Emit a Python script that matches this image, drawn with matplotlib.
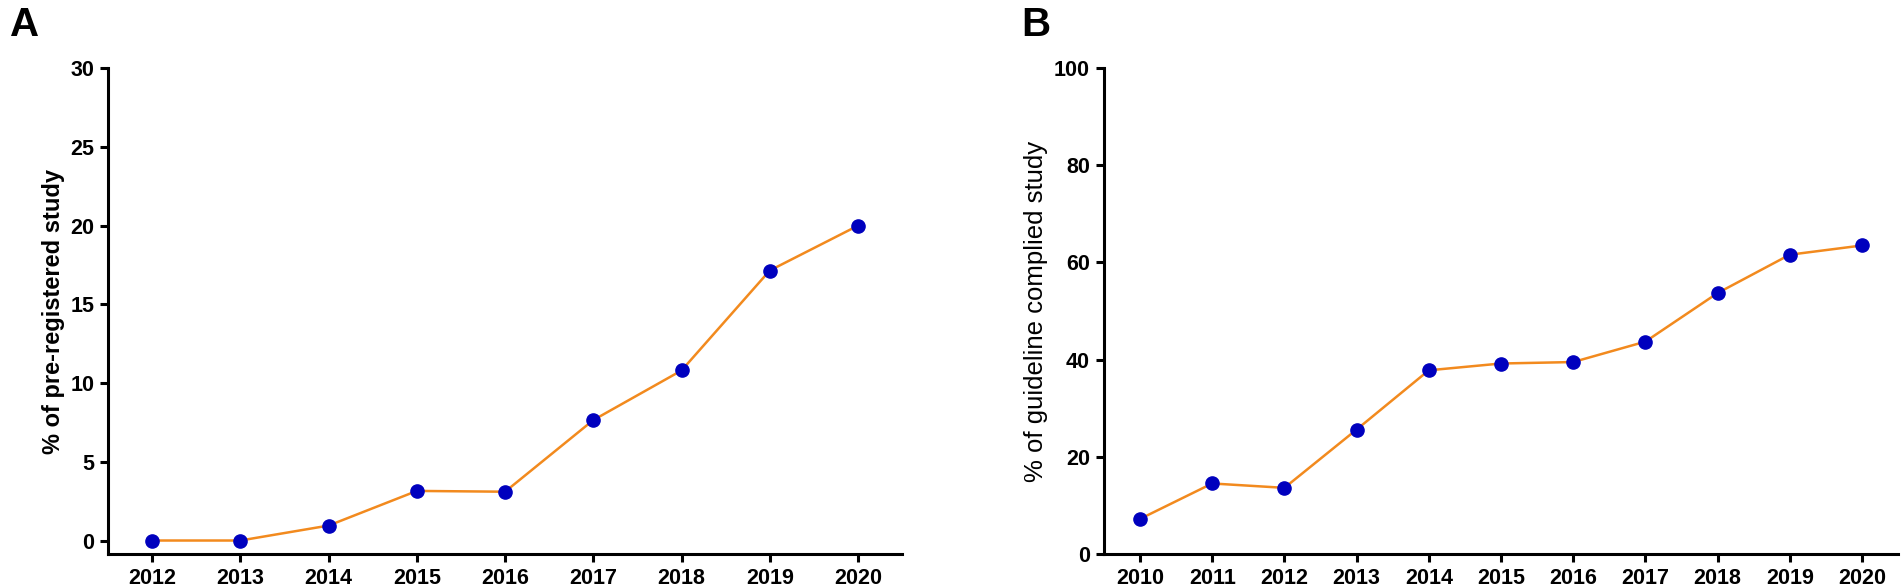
import matplotlib
matplotlib.use("Agg")
import matplotlib.pyplot as plt

plt.rcParams['font.family'] = ['Liberation Sans', 'DejaVu Sans']

# Panel A: pre-registered studies
years_a = [2012, 2013, 2014, 2015, 2016, 2017, 2018, 2019, 2020]
prereg_pct = [0.0, 0.0, 0.95, 3.15, 3.1, 7.65, 10.8, 17.15, 20.0]

# Panel B: guideline complied studies
years_b = [2010, 2011, 2012, 2013, 2014, 2015, 2016, 2017, 2018, 2019, 2020]
guideline_pct = [7.2, 14.5, 13.6, 25.6, 37.8, 39.2, 39.5, 43.7, 53.7, 61.6, 63.5]

line_color = '#F28A1E'
dot_color = '#0000BE'


def style_axes(ax, ylabel, bold_label, label_size):
    for side in ['top', 'right']:
        ax.spines[side].set_visible(False)
    for side in ['left', 'bottom']:
        ax.spines[side].set_linewidth(2.2)
    ax.tick_params(axis='both', direction='out', length=6, width=2.2,
                   pad=4, labelsize=15.5)
    for lab in ax.get_xticklabels() + ax.get_yticklabels():
        lab.set_fontweight('bold')
    ax.set_ylabel(ylabel, fontsize=label_size,
                  fontweight='bold' if bold_label else 'normal', labelpad=4)


fig = plt.figure(figsize=(19.02, 5.88), dpi=100)

ax_a = fig.add_axes([0.0568, 0.058, 0.4175, 0.826])
ax_a.plot(years_a, prereg_pct, color=line_color, linewidth=1.8, zorder=2)
ax_a.plot(years_a, prereg_pct, 'o', color=dot_color, markersize=9.5, zorder=3)
ax_a.set_xlim(2011.5, 2020.5)
ax_a.set_ylim(-0.85, 30)
ax_a.set_xticks(years_a)
ax_a.set_yticks(range(0, 31, 5))
style_axes(ax_a, '% of pre-registered study', True, 17)

ax_b = fig.add_axes([0.5804, 0.058, 0.4175, 0.826])
ax_b.plot(years_b, guideline_pct, color=line_color, linewidth=1.8, zorder=2)
ax_b.plot(years_b, guideline_pct, 'o', color=dot_color, markersize=9.5, zorder=3)
ax_b.set_xlim(2009.5, 2020.5)
ax_b.set_ylim(0, 100)
ax_b.set_xticks(years_b)
ax_b.set_yticks(range(0, 101, 20))
style_axes(ax_b, '% of guideline complied study', False, 18.5)

fig.text(0.005, 0.99, 'A', fontsize=29, fontweight='bold', va='top', ha='left')
fig.text(0.537, 0.99, 'B', fontsize=29, fontweight='bold', va='top', ha='left')

fig.savefig('out.png', dpi=100)
